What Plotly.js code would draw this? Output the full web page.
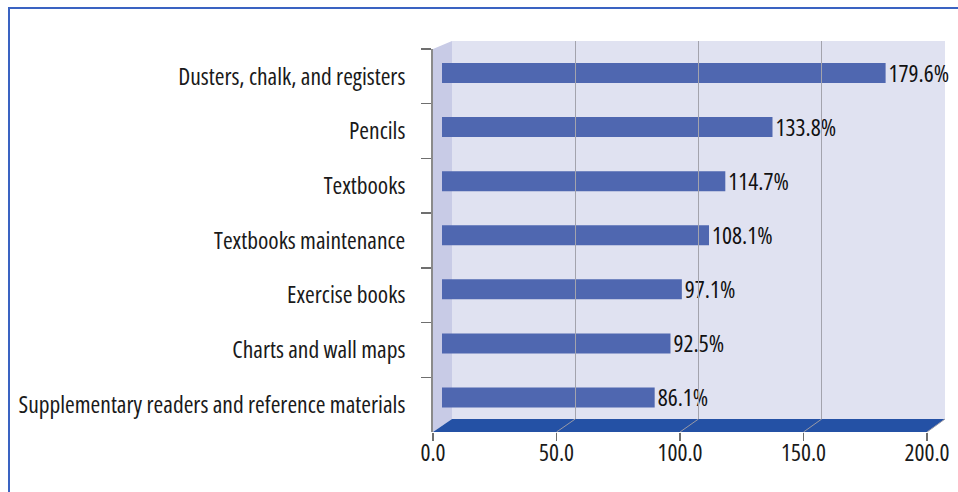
<!DOCTYPE html>
<html>
<head>
<meta charset="utf-8">
<script src="https://cdn.plot.ly/plotly-3.0.1.min.js"></script>
<style>
html,body{margin:0;padding:0;background:#fff;}
#chart{width:958px;height:492px;}
</style>
</head>
<body>
<div id="chart"></div>
<script>
// ---- data ----
const categories = [
  "Dusters, chalk, and registers",
  "Pencils",
  "Textbooks",
  "Textbooks maintenance",
  "Exercise books",
  "Charts and wall maps",
  "Supplementary readers and reference materials"
];
const values = [179.6, 133.8, 114.7, 108.1, 97.1, 92.5, 86.1];
const xTicks = [0, 50, 100, 150, 200];
const xTickLabels = ["0.0", "50.0", "100.0", "150.0", "200.0"];

// ---- font selection: narrow face whose width/height ratio matches the reference ----
const probe = 'Dusters, chalk, and registers';
const targetWidth = 229, targetRatio = 13.1;
const ctx = document.createElement('canvas').getContext('2d');
function setFont(fam, stretch, size) {
  try { ctx.fontStretch = stretch || 'normal'; } catch (e) {}
  ctx.font = `${size}px ${fam}`;
  try { ctx.fontStretch = stretch || 'normal'; } catch (e) {}
}
function measure(fam, stretch, size, txt) {
  setFont(fam, stretch, size);
  return ctx.measureText(txt || probe).width;
}
function capH(fam, stretch, size) {
  setFont(fam, stretch, size);
  return ctx.measureText('D').actualBoundingBoxAscent;
}
function available(name) {
  return measure(`"${name}", monospace`, 'normal', 40) !== measure('monospace', 'normal', 40) ||
         measure(`"${name}", serif`, 'normal', 40) !== measure('serif', 'normal', 40);
}
let family = null, stretch = 'normal', best = Infinity;
for (const n of ['Noto Sans', 'Roboto', 'Open Sans', 'Liberation Sans', 'DejaVu Sans']) {
  if (!available(n)) continue;
  const wN = measure(`"${n}"`, 'normal', 100);
  for (const s of ['extra-condensed', 'condensed', 'semi-condensed', 'normal']) {
    const w = measure(`"${n}"`, s, 100);
    if (s !== 'normal' && w > wN * 0.97) continue;
    const ratio = w / capH(`"${n}"`, s, 100);
    const score = Math.abs(ratio - targetRatio);
    if (score < best) { best = score; family = n; stretch = s; }
  }
}
if (!family) family = 'Liberation Sans';
const FONT = `"${family}", "Liberation Sans", sans-serif`;
const w22 = measure(`"${family}", sans-serif`, stretch, 22);
const FS = Math.max(16, Math.min(26, Math.round(22 * targetWidth / w22 * 2) / 2));
// apply the stretch to every svg text, including Plotly's off-screen measuring node
const styleEl = document.createElement('style');
styleEl.textContent = `text{font-stretch:${stretch};}`;
document.head.appendChild(styleEl);

// ---- layout helpers (pixel -> paper) ----
const W = 958, H = 492;
const px = x => x / W;
const py = y => 1 - y / H;

// geometry of the pseudo-3D box
const front = {x0: 433, x1: 927, yTop: 49, yBot: 432};
const back  = {x0: 452, x1: 945, yTop: 41, yBot: 419};
const mid   = {x0: 442, x1: 936, yTop: 46, yBot: 424.5};

const xMax = 200;
const shapes = [];
shapes.push({type:'rect', xref:'paper', yref:'paper', x0:px(9), x1:px(970), y0:py(8), y1:py(500),
  line:{color:'#3a63c2', width:2}, fillcolor:'rgba(0,0,0,0)', layer:'below'});
shapes.push({type:'rect', xref:'paper', yref:'paper', x0:px(back.x0), x1:px(back.x1), y0:py(back.yBot), y1:py(back.yTop),
  line:{width:0}, fillcolor:'#e0e2f1', layer:'below'});
shapes.push({type:'path', xref:'paper', yref:'paper',
  path:`M ${px(front.x0)} ${py(front.yTop)} L ${px(back.x0)} ${py(back.yTop)} L ${px(back.x0)} ${py(back.yBot)} L ${px(front.x0)} ${py(front.yBot)} Z`,
  line:{width:0}, fillcolor:'#c8cbe6', layer:'below'});
shapes.push({type:'path', xref:'paper', yref:'paper',
  path:`M ${px(front.x0)} ${py(front.yBot)} L ${px(front.x1)} ${py(front.yBot)} L ${px(back.x1)} ${py(back.yBot)} L ${px(back.x0)} ${py(back.yBot)} Z`,
  line:{width:0}, fillcolor:'#2451a5', layer:'below'});
xTicks.forEach(v => {
  if (v === 0) return;
  const fx = front.x0 + (v / xMax) * (front.x1 - front.x0);
  const bx = back.x0 + (v / xMax) * (back.x1 - back.x0);
  shapes.push({type:'line', xref:'paper', yref:'paper', x0:px(fx), y0:py(front.yBot), x1:px(bx), y1:py(back.yBot),
    line:{color:'#9a9aa6', width:1}, layer:'above'});
});

const data = [
  {
    type:'bar', orientation:'h',
    x: values, y: categories,
    xaxis:'x', yaxis:'y',
    width: 0.37,
    marker:{color:'#4f67b0', line:{width:0}},
    texttemplate:'%{x:.1f}%', textposition:'outside', constraintext:'none', cliponaxis:false,
    textfont:{family:FONT, size:FS, color:'#111'},
    hoverinfo:'skip'
  },
  {
    type:'scatter', mode:'markers', x: values, y: categories,
    xaxis:'x2', yaxis:'y2', marker:{opacity:0}, hoverinfo:'skip', showlegend:false
  },
  {
    type:'scatter', mode:'markers', x: values, y: categories,
    xaxis:'x3', yaxis:'y3', marker:{opacity:0}, hoverinfo:'skip', showlegend:false
  }
];

const layout = {
  width: W, height: H,
  margin:{l:0, r:0, t:0, b:0},
  paper_bgcolor:'#ffffff', plot_bgcolor:'rgba(0,0,0,0)',
  showlegend:false,
  font:{family:FONT, size:FS, color:'#1a1a1a'},
  shapes: shapes,
  xaxis:{domain:[px(mid.x0), px(mid.x1)], range:[0, xMax], visible:false, anchor:'y', fixedrange:true},
  yaxis:{domain:[py(mid.yBot), py(mid.yTop)], type:'category', categoryorder:'array', categoryarray:categories,
         range:[categories.length - 0.5, -0.5], visible:false, anchor:'x', fixedrange:true},
  xaxis2:{domain:[px(front.x0), px(front.x1)], range:[0, xMax], anchor:'y2',
          showgrid:false, zeroline:false, showline:false,
          tickmode:'array', tickvals:xTicks, ticktext:xTickLabels,
          ticks:'outside', ticklen:8, tickwidth:1.5, tickcolor:'#6f6f6f',
          ticklabelstandoff:-8,
          tickfont:{family:FONT, size:FS, color:'#1a1a1a'}, fixedrange:true},
  yaxis2:{domain:[py(front.yBot), py(front.yTop)], type:'category', categoryorder:'array', categoryarray:categories,
          range:[categories.length - 0.5, -0.5], anchor:'x2',
          showgrid:false, zeroline:false, showline:true, linecolor:'#8a8a8a', linewidth:2,
          ticks:'outside', tickson:'boundaries', ticklen:10, tickwidth:1.5, tickcolor:'#6f6f6f',
          ticklabelstandoff:21,
          tickfont:{family:FONT, size:FS, color:'#1a1a1a'}, fixedrange:true},
  xaxis3:{domain:[px(back.x0), px(back.x1)], range:[0, xMax], anchor:'y3',
          showgrid:true, gridcolor:'#a3a3ad', gridwidth:1, tickmode:'array', tickvals:xTicks,
          showticklabels:false, ticks:'', zeroline:false, showline:false, fixedrange:true},
  yaxis3:{domain:[py(back.yBot), py(back.yTop)], type:'category', categoryorder:'array', categoryarray:categories,
          range:[categories.length - 0.5, -0.5], anchor:'x3',
          showgrid:false, showticklabels:false, ticks:'', zeroline:false, showline:false, fixedrange:true}
};

Plotly.newPlot('chart', data, layout, {displayModeBar:false, staticPlot:true});
</script>
</body>
</html>
